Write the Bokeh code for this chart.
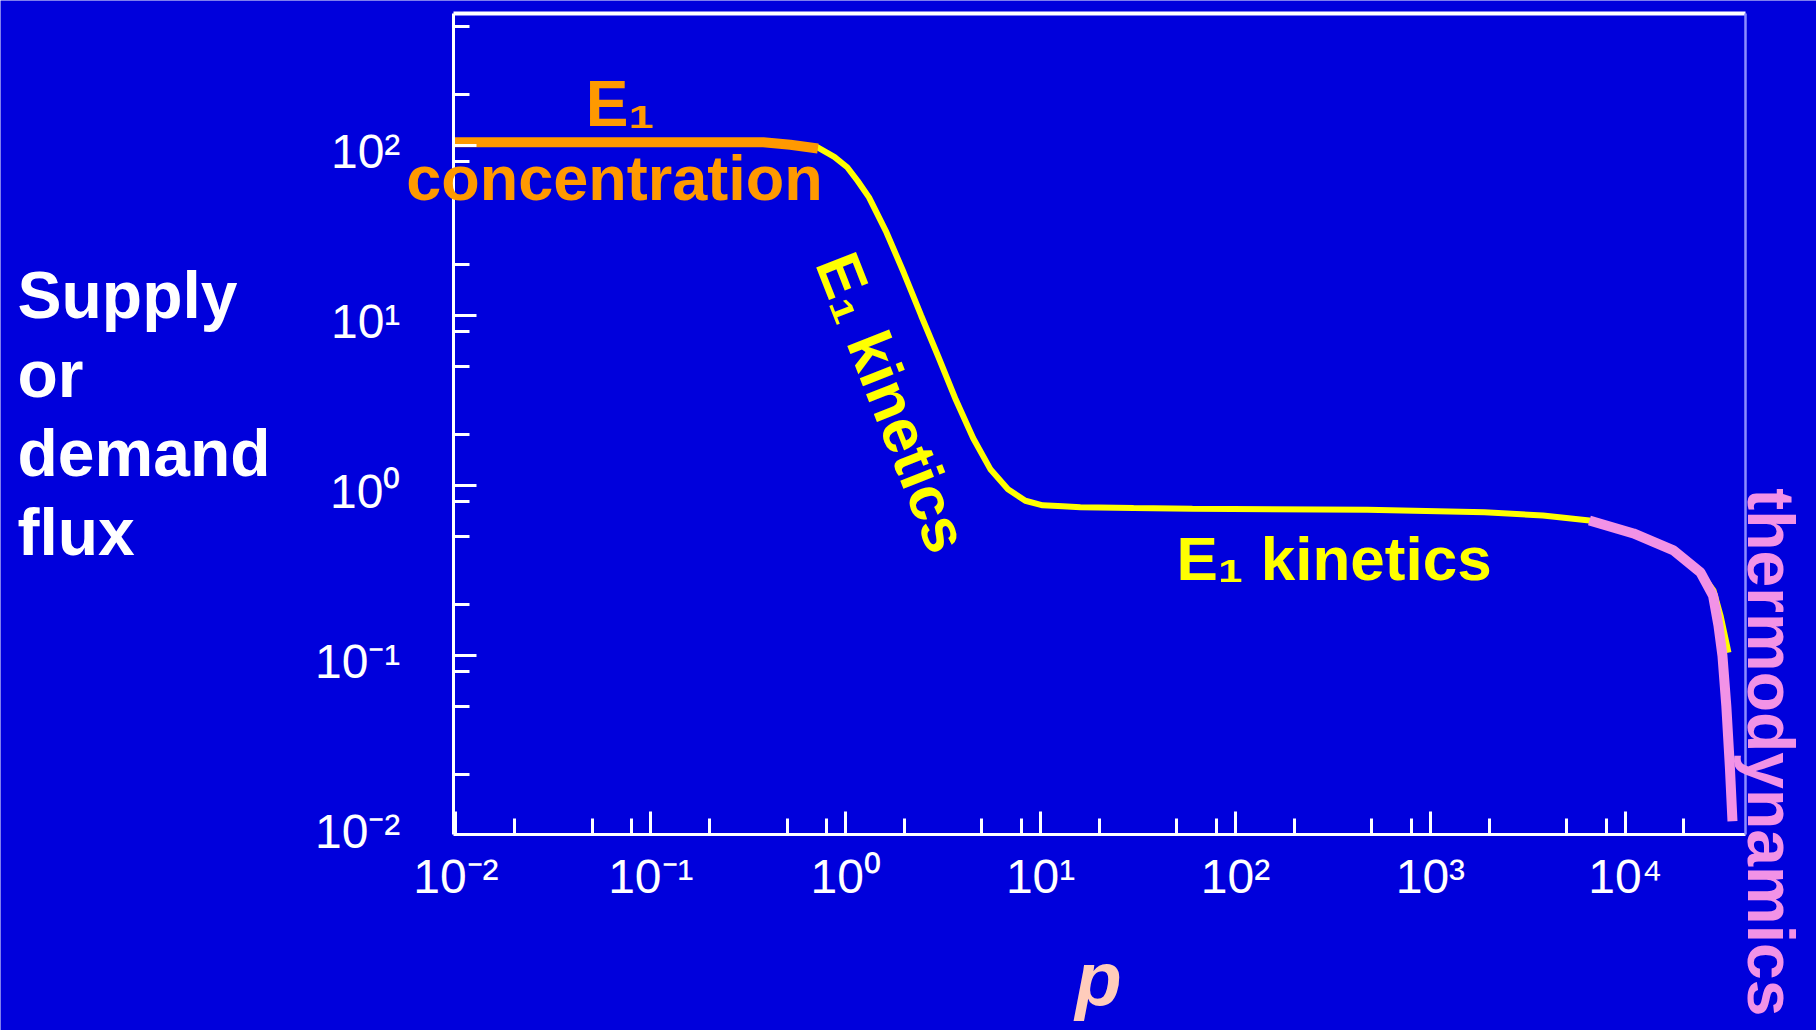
import math
from bokeh.plotting import figure
from bokeh.models import (FixedTicker, Label, LabelSet, ColumnDataSource,
                          CustomJSTickFormatter, LogAxis)
from bokeh.core.properties import value
from bokeh.embed import file_html
from bokeh.resources import INLINE

# ---------------- data ----------------
# extents of the drawn axes
x_min, x_max = 0.0097, 41400.0
y_min, y_max = 0.00885, 598.0
# visible window around them (whole page)
view_x = (4.606e-5, 95720.0)
view_y = (6.22e-4, 712.9)

# tick values and labels
x_decades = [0.01, 0.1, 1, 10, 100, 1000, 10000]
x_decade_labels = ["10\u207b\u00b2", "10\u207b\u00b9", "10\u2070", "10\u00b9",
                   "10\u00b2", "10\u00b3", "10\u2074"]
x_minor = [0.02, 0.05, 0.08, 0.2, 0.5, 0.8, 2, 5, 8, 20, 50, 80,
           200, 500, 800, 2000, 5000, 8000, 20000]
y_decades = [0.01, 0.1, 1, 10, 100]
y_decade_labels = ["10\u207b\u00b2", "10\u207b\u00b9", "10\u2070", "10\u00b9", "10\u00b2"]
y_minor = [0.02, 0.05, 0.08, 0.2, 0.5, 0.8, 2, 5, 8, 20, 50, 80, 200, 500]

# E1 concentration limited branch (orange)
conc_p = [0.0097, 0.055, 0.378, 0.52, 0.72]
conc_flux = [104.6, 104.6, 104.6, 101.0, 96.0]

# E1 kinetics branch (yellow)
kin_p = [0.38, 0.52, 0.714, 0.874, 1.018, 1.15, 1.317, 1.617, 1.984, 2.437, 2.994,
         3.678, 4.51, 5.54, 6.80, 8.35, 10.25, 13.0, 16.0, 30.0, 60.1, 475, 1893,
         3782, 6546, 11020, 17670, 24300, 28370, 30800, 33840]
kin_flux = [104.6, 101.0, 97.7, 85.8, 74.5, 62.0, 49.5, 30.9, 17.9, 10.0, 5.68,
            3.18, 1.897, 1.24, 0.951, 0.813, 0.764, 0.755, 0.745, 0.737, 0.729,
            0.720, 0.697, 0.666, 0.622, 0.522, 0.415, 0.308, 0.241, 0.172, 0.104]

# thermodynamics limited branch (pink)
thermo_p = [6546, 11020, 17670, 24300, 28200, 30060, 31500, 33000, 34400, 35470]
thermo_flux = [0.622, 0.522, 0.415, 0.308, 0.225, 0.15, 0.1, 0.05, 0.022, 0.0106]

# ---------------- styling ----------------
BG = "#0000DC"
ORANGE = "#FF9900"
YELLOW = "#FFFF00"
PINK = "#F292E6"
PEACH = "#FFCCBB"
FONT = "Liberation Sans"

p = figure(x_axis_type="log", y_axis_type="log",
           x_range=view_x, y_range=view_y,
           width=1816, height=1030, min_border=0,
           output_backend="svg", toolbar_location=None,
           background_fill_color=BG, border_fill_color=BG,
           outline_line_color=None)
p.grid.visible = False

xa = p.xaxis[0]
ya = p.yaxis[0]
for ax in (xa, ya):
    ax.axis_line_color = "white"
    ax.axis_line_width = 3
    ax.major_tick_line_color = "white"
    ax.major_tick_line_width = 3
    ax.minor_tick_line_color = "white"
    ax.minor_tick_line_width = 3
    ax.major_tick_in = 23
    ax.major_tick_out = 0
    ax.minor_tick_in = 16
    ax.minor_tick_out = 0

xa.fixed_location = y_min
xa.bounds = (x_min, x_max)
ya.fixed_location = x_min
ya.bounds = (y_min, y_max)

xa.ticker = FixedTicker(ticks=x_decades, minor_ticks=x_minor)
ya.ticker = FixedTicker(ticks=[t for t in y_decades if t > y_min * 1.2], minor_ticks=y_minor)

xa.major_label_overrides = dict(zip(x_decades, x_decade_labels))
xa.major_label_text_color = "white"
xa.major_label_text_font = FONT
xa.major_label_text_font_size = "48px"
xa.major_label_standoff = 16

ya.formatter = CustomJSTickFormatter(code="return ''")

# top and right frame lines
top = LogAxis(fixed_location=y_max, bounds=(x_min, x_max),
              formatter=CustomJSTickFormatter(code="return ''"),
              ticker=FixedTicker(ticks=[]), axis_line_color="white", axis_line_width=4,
              major_tick_in=0, major_tick_out=0, minor_tick_in=0, minor_tick_out=0)
right = LogAxis(fixed_location=x_max, bounds=(y_min, y_max),
                formatter=CustomJSTickFormatter(code="return ''"),
                ticker=FixedTicker(ticks=[]), axis_line_color="#8C8CFF", axis_line_width=2.5,
                major_tick_in=0, major_tick_out=0, minor_tick_in=0, minor_tick_out=0)
p.add_layout(top, "above")
p.add_layout(right, "right")

# y tick labels
ysrc = ColumnDataSource(dict(x=[x_min] * len(y_decades), y=y_decades, text=y_decade_labels))
p.add_layout(LabelSet(x="x", y="y", text="text", source=ysrc, x_offset=-53, y_offset=-6,
                      text_align="right", text_baseline="middle", text_color="white",
                      text_font=value(FONT), text_font_size="48px"))

# curves
p.line(kin_p, kin_flux, line_color=YELLOW, line_width=6)
p.line(conc_p, conc_flux, line_color=ORANGE, line_width=10)
p.line(thermo_p, thermo_flux, line_color=PINK, line_width=10)


def lab(x, y, text, color, size, align="left", angle=0.0, style="bold"):
    p.add_layout(Label(x=x, y=y, text=text, text_color=color, text_font=FONT,
                       text_font_style=style, text_font_size=f"{size}px", angle=angle,
                       text_align=align, text_baseline="middle"))


# y-axis title, left aligned lines
for word, yy in zip(["Supply", "or", "demand", "flux"], [13.2, 4.53, 1.553, 0.533]):
    lab(5.63e-5, yy, word, "white", 66)

# x-axis title
lab(19.8, 0.00125, "p", PEACH, 76, align="center", style="bold italic")

# annotations
lab(0.0463, 176.6, "E\u2081", ORANGE, 64)
lab(0.0651, 64.4, "concentration", ORANGE, 63, align="center")
lab(1.739, 3.08, "E\u2081 kinetics", YELLOW, 62, align="center", angle=-1.196)
lab(49.8, 0.372, "E\u2081 kinetics", YELLOW, 62)
lab(55600, 0.0269, "thermodynamics", PINK, 66, align="center", angle=-math.pi / 2)

open("out.html", "w").write(file_html(p, INLINE))
